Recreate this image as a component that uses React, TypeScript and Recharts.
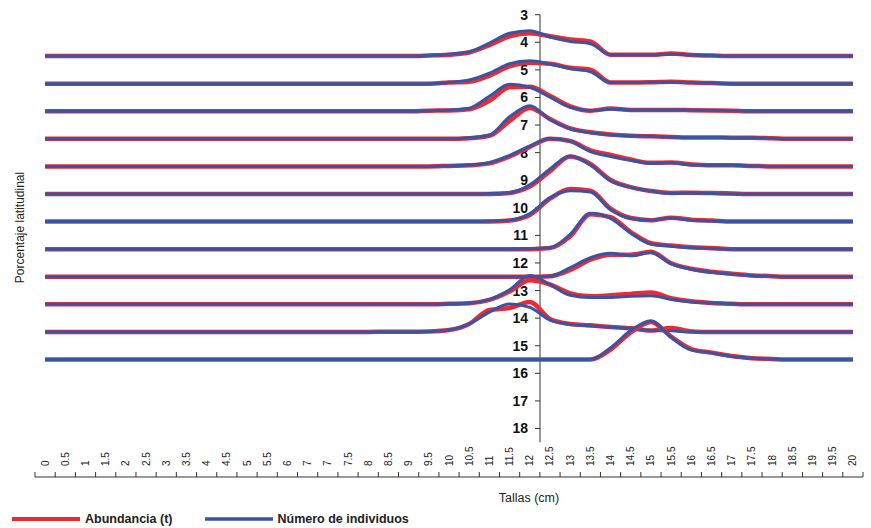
import React from "react";
import { Legend, Line, LineChart, XAxis, YAxis } from "recharts";

const FONT = '"Liberation Sans", Arial, Helvetica, sans-serif';
const RED = "#ec2a32";
const BLUE = "#3a54a5";
const AXIS = "#333333";

// etiquetas del eje de tallas tal como salen en la figura (6.5 aparece como "7")
const TALLAS = [
  "0", "0.5", "1", "1.5", "2", "2.5", "3", "3.5", "4", "4.5", "5", "5.5", "6", "7", "7", "7.5", "8", "8.5", "9", "9.5",
  "10", "10.5", "11", "11.5", "12", "12.5", "13", "13.5", "14", "14.5", "15", "15.5", "16", "16.5", "17", "17.5", "18",
  "18.5", "19", "19.5", "20",
];

// linea base de cada perfil sobre el eje de porcentaje latitudinal
const BASES = [4.5, 5.5, 6.5, 7.5, 8.5, 9.5, 10.5, 11.5, 12.5, 13.5, 14.5, 15.5];
const Y_TICKS = [3, 4, 5, 6, 7, 8, 9, 10, 11, 12, 13, 14, 15, 16, 17, 18];

// altura de cada curva sobre su linea base, por talla
const ABUNDANCIA = [
  [0,0,0,0,0, 0,0,0,0,0, 0,0,0,0,0, 0,0, 0, 0, .02, .05, .13, .40, .72, .83, .72, .60, .53, .05, .05, .05, .09, .04, .02, 0, 0, 0, 0, 0, 0, 0],
  [0,0,0,0,0, 0,0,0,0,0, 0,0,0,0,0, 0,0, 0, 0, 0, .04, .07, .29, .63, .76, .72, .58, .51, .04, .04, .05, .07, .04, .02, 0, 0, 0, 0, 0, 0, 0],
  [0,0,0,0,0, 0,0,0,0,0, 0,0,0,0,0, 0,0, 0, 0, .02, .03, .07, .38, .87, .89, .56, .18, .02, .10, .05, .05, .05, .04, .03, .02, 0, 0, 0, 0, 0, 0],
  [0,0,0,0,0, 0,0,0,0,0, 0,0,0,0,0, 0,0, 0, 0, 0, 0, .02, .11, .65, 1.12, .72, .38, .24, .16, .11, .09, .07, .05, .05, .04, .04, .02, 0, 0, 0, 0],
  [0,0,0,0,0, 0,0,0,0,0, 0,0,0,0,0, 0,0, 0, 0, 0, .02, .04, .11, .36, .71, 1.0, .92, .58, .42, .25, .13, .14, .07, .04, .04, .02, 0, 0, 0, 0, 0],
  [0,0,0,0,0, 0,0,0,0,0, 0,0,0,0,0, 0,0, 0, 0, 0, 0, 0, 0, .04, .27, .83, 1.36, 1.09, .51, .25, .11, .04, .05, .04, .02, 0, 0, 0, 0, 0, 0],
  [0,0,0,0,0, 0,0,0,0,0, 0,0,0,0,0, 0,0, 0, 0, 0, 0, 0, 0, .04, .24, .83, 1.18, 1.12, .47, .13, .05, .14, .07, .04, 0, 0, 0, 0, 0, 0, 0],
  [0,0,0,0,0, 0,0,0,0,0, 0,0,0,0,0, 0,0, 0, 0, 0, 0, 0, 0, 0, 0, .04, .47, 1.27, 1.16, .62, .22, .13, .07, .04, 0, 0, 0, 0, 0, 0, 0],
  [0,0,0,0,0, 0,0,0,0,0, 0,0,0,0,0, 0,0, 0, 0, 0, 0, 0, 0, 0, 0, .02, .25, .62, .80, .80, .91, .49, .29, .18, .11, .05, .02, 0, 0, 0, 0],
  [0,0,0,0,0, 0,0,0,0,0, 0,0,0,0,0, 0,0, 0, 0, 0, .02, .04, .16, .47, .87, .72, .40, .29, .33, .38, .43, .22, .11, .05, .02, 0, 0, 0, 0, 0, 0],
  [0,0,0,0,0, 0,0,0,0,0, 0,0,0,0,0, 0,0, .01, .01, .02, .07, .29, .80, .87, 1.09, .47, .29, .24, .18, .13, .05, .14, .02, 0, 0, 0, 0, 0, 0, 0, 0],
  [0,0,0,0,0, 0,0,0,0,0, 0,0,0,0,0, 0,0, 0, 0, 0, 0, 0, 0, 0, 0, 0, 0, 0, .36, .98, 1.36, .83, .38, .25, .13, .05, .02, 0, 0, 0, 0],
];

const INDIVIDUOS = [
  [0,0,0,0,0, 0,0,0,0,0, 0,0,0,0,0, 0,0, 0, 0, .02, .07, .16, .47, .83, .92, .69, .53, .45, .05, .05, .05, .07, .04, .02, 0, 0, 0, 0, 0, 0, 0],
  [0,0,0,0,0, 0,0,0,0,0, 0,0,0,0,0, 0,0, 0, 0, 0, .05, .13, .38, .72, .83, .71, .54, .43, .04, .04, .05, .05, .04, .02, 0, 0, 0, 0, 0, 0, 0],
  [0,0,0,0,0, 0,0,0,0,0, 0,0,0,0,0, 0,0, 0, 0, .02, .04, .11, .54, .98, .87, .51, .14, .02, .07, .05, .05, .05, .04, .04, .03, 0, 0, 0, 0, 0, 0],
  [0,0,0,0,0, 0,0,0,0,0, 0,0,0,0,0, 0,0, 0, 0, 0, 0, .04, .14, .80, 1.20, .69, .36, .22, .14, .11, .09, .07, .05, .05, .04, .04, .02, 0, 0, 0, 0],
  [0,0,0,0,0, 0,0,0,0,0, 0,0,0,0,0, 0,0, 0, 0, 0, .02, .05, .14, .40, .74, 1.01, .91, .54, .36, .22, .11, .13, .05, .04, .04, .02, 0, 0, 0, 0, 0],
  [0,0,0,0,0, 0,0,0,0,0, 0,0,0,0,0, 0,0, 0, 0, 0, 0, 0, .02, .05, .33, .91, 1.38, 1.05, .47, .24, .11, .02, .04, .02, 0, 0, 0, 0, 0, 0, 0],
  [0,0,0,0,0, 0,0,0,0,0, 0,0,0,0,0, 0,0, 0, 0, 0, 0, 0, .02, .05, .29, .87, 1.12, 1.07, .43, .11, .05, .13, .05, .02, 0, 0, 0, 0, 0, 0, 0],
  [0,0,0,0,0, 0,0,0,0,0, 0,0,0,0,0, 0,0, 0, 0, 0, 0, 0, 0, 0, .02, .05, .54, 1.30, 1.12, .58, .18, .11, .05, .02, 0, 0, 0, 0, 0, 0, 0],
  [0,0,0,0,0, 0,0,0,0,0, 0,0,0,0,0, 0,0, 0, 0, 0, 0, 0, 0, 0, .01, .02, .33, .69, .85, .76, .87, .47, .27, .16, .09, .04, .02, 0, 0, 0, 0],
  [0,0,0,0,0, 0,0,0,0,0, 0,0,0,0,0, 0,0, 0, 0, 0, .02, .04, .18, .53, 1.05, .72, .33, .25, .25, .29, .31, .18, .09, .05, .02, 0, 0, 0, 0, 0, 0],
  [0,0,0,0,0, 0,0,0,0,0, 0,0,0,0,0, 0,0, .01, .01, .02, .07, .29, .72, 1.01, .89, .43, .27, .22, .18, .13, .05, .04, 0, 0, 0, 0, 0, 0, 0, 0, 0],
  [0,0,0,0,0, 0,0,0,0,0, 0,0,0,0,0, 0,0, 0, 0, 0, 0, 0, 0, 0, 0, 0, 0, 0, .43, 1.05, 1.41, .80, .34, .24, .11, .05, .02, 0, 0, 0, 0],
];

const rows = TALLAS.map((talla, i) => {
  const row: Record<string, number | string> = { idx: i, talla };
  BASES.forEach((base, r) => {
    row[`a${r}`] = base - ABUNDANCIA[r][i];
    row[`n${r}`] = base - INDIVIDUOS[r][i];
  });
  return row;
});

const CAT_TICKS = TALLAS.map((_, i) => i);
const EDGE_TICKS = [...TALLAS.map((_, i) => i - 0.5), TALLAS.length - 0.5];
const X_DOMAIN = [-0.5, TALLAS.length - 0.5];
const Y_DOMAIN = [3, 18.5];

const W = 871;
const H = 528;
const PLOT = { top: 14.7, right: 8, bottom: 85.7, left: 35 };

const TallaTick = (props: any) => {
  const { x, y, payload } = props;
  return (
    <text x={x} y={y} transform={`rotate(-90 ${x} ${y})`} textAnchor="start" dy="0.35em" fontSize={10} fontFamily={FONT} fill="#222">
      {TALLAS[payload.value]}
    </text>
  );
};

const renderLegend = (props: any) => {
  const seen = new Set<string>();
  const items = (props.payload || []).filter((p: any) => {
    if (p.type === "none" || seen.has(p.value)) return false;
    seen.add(p.value);
    return true;
  });
  return (
    <div style={{ display: "flex", alignItems: "center", fontFamily: FONT, fontWeight: "bold", fontSize: 12.5, color: "#222", whiteSpace: "nowrap" }}>
      {items.map((p: any, i: number) => (
        <span key={i} style={{ display: "flex", alignItems: "center", marginRight: i === 0 ? 32 : 0 }}>
          <svg width={68} height={8}>
            <line x1={0} y1={4} x2={68} y2={4} stroke={p.color} strokeWidth={p.color === RED ? 4 : 3.5} />
          </svg>
          <span style={{ marginLeft: 5 }}>{p.value}</span>
        </span>
      ))}
    </div>
  );
};

const layer: React.CSSProperties = { position: "absolute", left: 0, top: 0 };

export default function App() {
  return (
    <div style={{ position: "absolute", left: 0, top: 0, width: W, height: H, background: "#fff" }}>
      {/* eje de porcentaje latitudinal, cruzando entre 12 y 12.5 */}
      <div style={layer}>
        <LineChart width={W} height={H} data={rows} margin={{ top: PLOT.top, right: PLOT.right, bottom: PLOT.bottom, left: 0 }}>
          <XAxis dataKey="idx" type="number" domain={X_DOMAIN} allowDataOverflow hide />
          <YAxis
            type="number"
            domain={Y_DOMAIN}
            allowDataOverflow
            reversed
            ticks={Y_TICKS}
            interval={0}
            width={540}
            tickSize={5}
            tickMargin={7}
            axisLine={{ stroke: AXIS }}
            tickLine={{ stroke: AXIS }}
            tick={{ fontSize: 14, fontWeight: 700, fill: "#111", fontFamily: FONT }}
            label={(p: any) => {
              const vb = p.viewBox;
              const cy = vb.y + vb.height / 2 - 1;
              return (
                <text x={vb.x + 20} y={cy} transform={`rotate(-90 ${vb.x + 20} ${cy})`} textAnchor="middle" dy="0.35em" fontSize={12} fontFamily={FONT} fill="#222">
                  Porcentaje latitudinal
                </text>
              );
            }}
          />
        </LineChart>
      </div>

      {/* eje de tallas */}
      <div style={layer}>
        <LineChart width={W} height={H} data={rows} margin={{ top: 0, right: PLOT.right, bottom: 51, left: PLOT.left }}>
          <YAxis hide type="number" domain={Y_DOMAIN} allowDataOverflow reversed />
          <XAxis
            xAxisId="bordes"
            dataKey="idx"
            type="number"
            domain={X_DOMAIN}
            allowDataOverflow
            ticks={EDGE_TICKS}
            interval={0}
            height={1}
            mirror
            tickSize={5}
            axisLine={{ stroke: AXIS }}
            tickLine={{ stroke: AXIS }}
            tickFormatter={() => ""}
          />
          <XAxis
            xAxisId="tallas"
            dataKey="idx"
            type="number"
            domain={X_DOMAIN}
            allowDataOverflow
            ticks={CAT_TICKS}
            interval={0}
            height={1}
            mirror
            tickSize={0}
            tickMargin={10}
            axisLine={false}
            tickLine={false}
            tick={<TallaTick />}
            label={(p: any) => {
              const vb = p.viewBox;
              return (
                <text x={vb.x + vb.width / 2 + 80} y={vb.y + 23} textAnchor="middle" dominantBaseline="central" fontSize={12.5} fontFamily={FONT} fill="#222">
                  Tallas (cm)
                </text>
              );
            }}
          />
        </LineChart>
      </div>

      {/* perfiles */}
      <div style={layer}>
        <LineChart width={W} height={H} data={rows} margin={PLOT}>
          <XAxis dataKey="idx" type="number" domain={X_DOMAIN} hide />
          <YAxis type="number" domain={Y_DOMAIN} reversed hide />
          {BASES.map((_, r) => [
            <Line
              key={`a${r}`}
              dataKey={`a${r}`}
              name="Abundancia (t)"
              type="monotone"
              stroke={RED}
              strokeWidth={4.5}
              dot={false}
              activeDot={false}
              legendType={r === 0 ? "line" : "none"}
              isAnimationActive={false}
            />,
            <Line
              key={`n${r}`}
              dataKey={`n${r}`}
              name="Número de individuos"
              type="monotone"
              stroke={BLUE}
              strokeWidth={3}
              dot={false}
              activeDot={false}
              legendType={r === 0 ? "line" : "none"}
              isAnimationActive={false}
            />,
          ])}
          <Legend layout="vertical" align="center" verticalAlign="middle" wrapperStyle={{ left: 12, top: 512, width: "auto" }} content={renderLegend} />
        </LineChart>
      </div>
    </div>
  );
}
